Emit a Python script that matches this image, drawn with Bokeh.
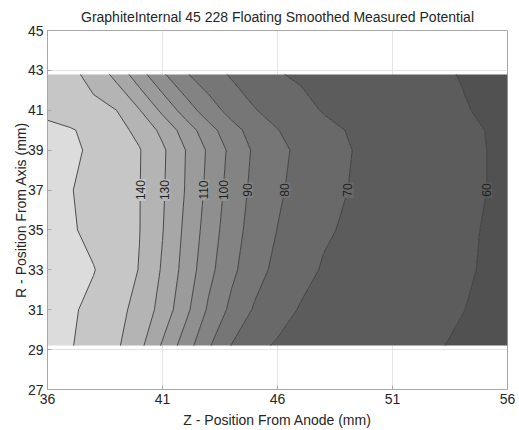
import numpy as np
from bokeh.plotting import figure
from bokeh.models import Range1d, FixedTicker, ColumnDataSource
from bokeh.core.properties import value
from bokeh.embed import file_html
from bokeh.resources import INLINE

# Z - position from anode (mm), grid columns
z_pos = [36, 37, 38, 39, 40, 41, 42, 43, 44, 45, 46, 47, 48, 50, 52, 54, 56]
# R - position from axis (mm), grid rows
r_pos = [29.2, 31, 33, 35, 37, 39, 40, 41, 42.8]

# smoothed measured floating potential (V), one list per R row
pot_r29 = [153.5, 150.6, 146.2, 141.5, 132.7, 118.8, 105.0, 91.2, 79.7, 72.0, 69.1, 67.8, 66.6, 64.1, 61.6, 59.1, 56.6]
pot_r31 = [154.0, 151.3, 147.6, 143.0, 136.8, 126.3, 112.8, 98.5, 87.6, 79.0, 73.2, 69.4, 68.1, 65.5, 62.9, 60.2, 57.6]
pot_r33 = [155.0, 152.7, 150.4, 145.4, 139.6, 128.9, 116.3, 103.1, 92.2, 83.8, 77.4, 72.6, 69.3, 66.5, 63.7, 60.9, 58.1]
pot_r35 = [154.8, 151.1, 147.5, 143.8, 140.2, 130.4, 117.9, 105.6, 94.1, 86.1, 79.8, 75.4, 71.0, 67.3, 64.3, 61.2, 58.2]
pot_r37 = [153.8, 150.4, 147.1, 143.7, 140.3, 131.2, 119.5, 107.4, 95.9, 87.4, 81.5, 76.8, 72.5, 67.8, 64.7, 61.7, 58.6]
pot_r39 = [155.5, 152.0, 148.2, 144.3, 140.5, 131.7, 120.0, 108.5, 97.4, 88.5, 82.7, 77.7, 73.3, 68.0, 64.8, 61.7, 58.6]
pot_r40 = [152.5, 150.75, 147.5, 143.2, 137.5, 127.4, 115.5, 104.0, 93.5, 86.2, 80.3, 76.1, 72.0, 67.7, 64.6, 61.5, 58.5]
pot_r41 = [147.5, 145.0, 142.5, 140.0, 130.4, 117.8, 105.5, 94.5, 86.6, 80.5, 76.4, 72.5, 69.5, 66.5, 63.5, 60.6, 57.7]
pot_r43 = [146.0, 142.4, 136.8, 127.0, 114.0, 101.5, 90.9, 84.5, 78.9, 74.7, 70.5, 68.9, 67.5, 64.9, 62.3, 59.7, 57.1]

levels = [50, 60, 70, 80, 90, 100, 110, 120, 130, 140, 150, 160]
label_levels = [140, 130, 110, 100, 90, 80, 70, 60]
band_colors = ["#515151", "#5c5c5c", "#696969", "#767676", "#838383", "#8f8f8f",
               "#9b9b9b", "#a7a7a7", "#b4b4b4", "#c6c6c6", "#dcdcdc"]

x_ticks = [36, 41, 46, 51, 56]
y_ticks = [27, 29, 31, 33, 35, 37, 39, 41, 43, 45]

Z = np.array(z_pos, dtype=float)
R = np.array(r_pos, dtype=float)
P = np.array([pot_r29, pot_r31, pot_r33, pot_r35, pot_r37, pot_r39, pot_r40, pot_r41, pot_r43])

FONT = "Liberation Sans"
GRAY = "#a8a8a8"
TXT = "#262626"

p = figure(width=519, height=430, x_range=Range1d(36, 56), y_range=Range1d(27, 45),
           output_backend="svg", toolbar_location=None,
           min_border_left=47, min_border_right=12, min_border_top=29, min_border_bottom=41,
           title="GraphiteInternal 45 228 Floating Smoothed Measured Potential")

p.title.align = "center"
p.title.text_font = FONT
p.title.text_font_size = "14px"
p.title.text_font_style = "normal"
p.title.text_color = TXT
p.title.standoff = 12

p.contour(Z, R, P, levels, fill_color=band_colors, line_color="#3a3a3a", line_width=0.9)

# contour labels along the R = 37 mm row
row = P[list(r_pos).index(37)]
lab_x = [float(np.interp(lv, row[::-1], Z[::-1])) for lv in label_levels]
lab_bg = [band_colors[levels.index(lv)] for lv in label_levels]
src = ColumnDataSource(dict(x=lab_x, y=[37] * len(lab_x), t=[str(v) for v in label_levels], bg=lab_bg))
p.text(x="x", y="y", text="t", source=src, angle=np.pi / 2, text_align="center",
       text_baseline="middle", text_font=value(FONT), text_font_size="12px",
       text_color="#1e1e1e", background_fill_color="bg", padding=1)

p.xaxis.ticker = FixedTicker(ticks=x_ticks)
p.yaxis.ticker = FixedTicker(ticks=y_ticks)
p.xaxis.axis_label = "Z - Position From Anode (mm)"
p.yaxis.axis_label = "R - Position From Axis (mm)"

for ax in (p.xaxis[0], p.yaxis[0]):
    ax.major_tick_in = 4
    ax.major_tick_out = 0
    ax.minor_tick_in = 0
    ax.minor_tick_out = 0
    ax.axis_line_color = GRAY
    ax.major_tick_line_color = GRAY
    ax.major_label_text_font = FONT
    ax.major_label_text_font_size = "14px"
    ax.major_label_text_color = TXT
    ax.axis_label_text_font = FONT
    ax.axis_label_text_font_size = "14px"
    ax.axis_label_text_font_style = "normal"
    ax.axis_label_text_color = TXT

p.xaxis.major_label_standoff = 4
p.xaxis.axis_label_standoff = 5
p.yaxis.major_label_standoff = 4
p.yaxis.axis_label_standoff = -4

p.xgrid.grid_line_color = "#e4e4e4"
p.ygrid.grid_line_color = "#e4e4e4"
p.xgrid.ticker = FixedTicker(ticks=x_ticks)
p.ygrid.ticker = FixedTicker(ticks=y_ticks)

p.outline_line_color = GRAY
p.background_fill_color = "white"
p.border_fill_color = "white"

open("out.html", "w").write(file_html(p, INLINE))
